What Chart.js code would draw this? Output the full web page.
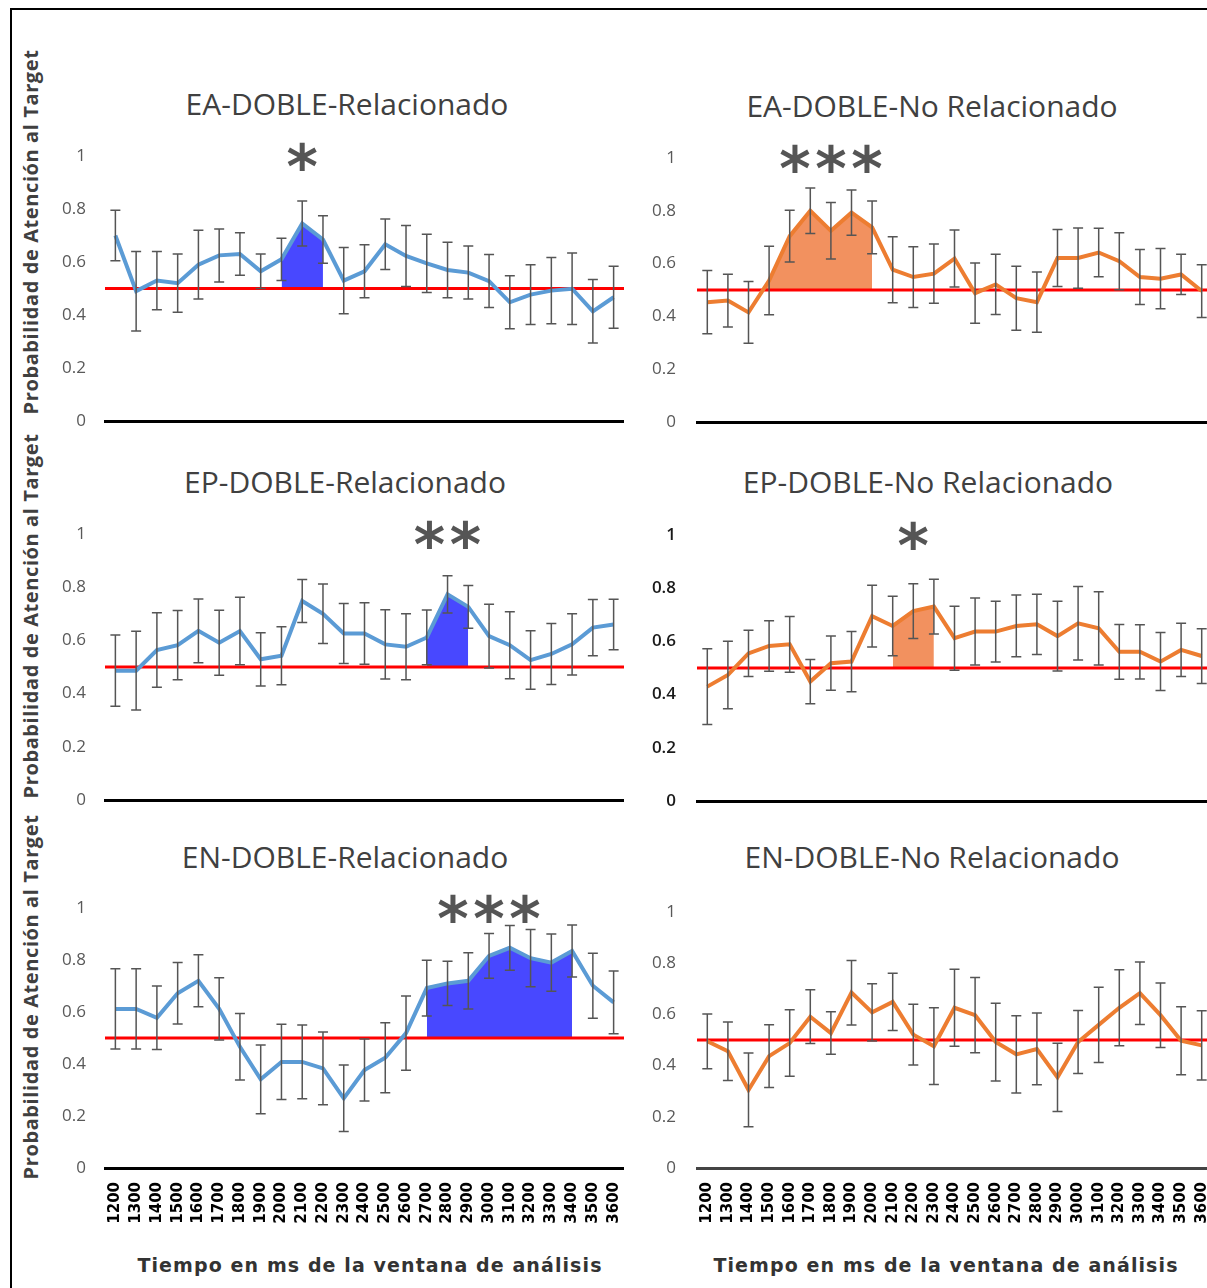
<!DOCTYPE html>
<html>
<head>
<meta charset="utf-8">
<script src="https://cdn.jsdelivr.net/npm/chart.js@4.4.1/dist/chart.umd.min.js"></script>
<style>
  html, body { margin: 0; padding: 0; width: 1207px; height: 1288px; overflow: hidden; background: #fff; }
  #frame { position: absolute; left: 10px; top: 8px; width: 1300px; height: 1400px; border: 2px solid #000; box-sizing: border-box; }
  canvas { position: absolute; }
  .title { position: absolute; font-family: 'Open Sans', sans-serif; font-size: 30px; line-height: 32px; color: #404040; transform: translateX(-50%); white-space: nowrap; }
  .ytitle { position: absolute; font-family: 'Open Sans', sans-serif; font-weight: 700; font-size: 20px; letter-spacing: 0.6px; color: #404040; white-space: nowrap; transform: translate(-50%, -50%) rotate(-90deg); }
  .xtitle { position: absolute; font-family: 'DejaVu Sans', sans-serif; font-weight: 700; font-size: 19px; letter-spacing: 1.1px; color: #333; white-space: nowrap; transform: translateX(-50%); }
</style>
</head>
<body>
<div id="frame"></div>

<div class="ytitle" style="left:30px; top:232px;">Probabilidad de Atención al Target</div>
<div class="ytitle" style="left:30px; top:616px;">Probabilidad de Atención al Target</div>
<div class="ytitle" style="left:30px; top:997px;">Probabilidad de Atención al Target</div>

<div class="title" style="left:347px; top:88px;">EA-DOBLE-Relacionado</div>
<div class="title" style="left:932px; top:90px;">EA-DOBLE-No Relacionado</div>
<div class="title" style="left:345px; top:466px;">EP-DOBLE-Relacionado</div>
<div class="title" style="left:928px; top:466px;">EP-DOBLE-No Relacionado</div>
<div class="title" style="left:345px; top:841px;">EN-DOBLE-Relacionado</div>
<div class="title" style="left:932px; top:841px;">EN-DOBLE-No Relacionado</div>

<div class="xtitle" style="left:370px; top:1254px;">Tiempo en ms de la ventana de análisis</div>
<div class="xtitle" style="left:946px; top:1254px;">Tiempo en ms de la ventana de análisis</div>

<canvas id="c1"></canvas>
<canvas id="c2"></canvas>
<canvas id="c3"></canvas>
<canvas id="c4"></canvas>
<canvas id="c5"></canvas>
<canvas id="c6"></canvas>

<script>
// time windows (ms)
const times = ['1200','1300','1400','1500','1600','1700','1800','1900','2000','2100','2200','2300','2400',
               '2500','2600','2700','2800','2900','3000','3100','3200','3300','3400','3500','3600'];
const yTicks = [0, 0.2, 0.4, 0.6, 0.8, 1];
const chance = 0.5;

// EA - related
const eaRelMean = [0.70,0.49,0.53,0.52,0.59,0.625,0.63,0.565,0.61,0.745,0.685,0.53,0.565,0.667,0.623,0.595,0.57,0.56,0.528,0.448,0.477,0.492,0.499,0.414,0.467];
const eaRelErr  = [0.095,0.15,0.11,0.11,0.13,0.10,0.08,0.065,0.08,0.085,0.09,0.125,0.10,0.095,0.115,0.11,0.105,0.10,0.10,0.10,0.113,0.125,0.135,0.12,0.117];
// EA - unrelated
const eaNoMean = [0.454,0.46,0.415,0.536,0.704,0.80,0.724,0.793,0.737,0.577,0.549,0.562,0.619,0.488,0.521,0.469,0.454,0.621,0.621,0.642,0.609,0.549,0.543,0.559,0.496];
const eaNoErr  = [0.12,0.10,0.117,0.13,0.098,0.086,0.107,0.086,0.10,0.125,0.115,0.112,0.108,0.114,0.114,0.121,0.114,0.108,0.114,0.092,0.108,0.104,0.114,0.076,0.10];
// EP - related
const epRelMean = [0.486,0.486,0.564,0.582,0.636,0.591,0.635,0.529,0.542,0.748,0.70,0.626,0.626,0.585,0.576,0.611,0.773,0.726,0.616,0.582,0.526,0.549,0.585,0.648,0.66];
const epRelErr  = [0.134,0.148,0.14,0.13,0.12,0.122,0.127,0.10,0.109,0.081,0.112,0.113,0.116,0.13,0.124,0.103,0.07,0.08,0.12,0.126,0.11,0.115,0.115,0.106,0.095];
// EP - unrelated
const epNoMean = [0.43,0.474,0.555,0.583,0.589,0.449,0.518,0.524,0.695,0.658,0.714,0.731,0.612,0.637,0.637,0.658,0.664,0.62,0.668,0.649,0.561,0.561,0.524,0.568,0.545];
const epNoErr  = [0.142,0.127,0.087,0.095,0.105,0.083,0.102,0.113,0.116,0.112,0.103,0.103,0.12,0.126,0.114,0.116,0.113,0.131,0.138,0.138,0.103,0.102,0.109,0.10,0.103];
// EN - related
const enRelMean = [0.612,0.612,0.578,0.672,0.72,0.612,0.466,0.341,0.408,0.408,0.383,0.268,0.377,0.424,0.519,0.692,0.71,0.72,0.816,0.847,0.807,0.79,0.835,0.701,0.637];
const enRelErr  = [0.154,0.154,0.122,0.118,0.10,0.12,0.128,0.132,0.145,0.142,0.14,0.128,0.119,0.135,0.143,0.107,0.085,0.108,0.086,0.086,0.11,0.11,0.10,0.125,0.121];
// EN - unrelated
const enNoMean = [0.495,0.456,0.305,0.437,0.488,0.591,0.527,0.685,0.608,0.649,0.521,0.476,0.626,0.597,0.492,0.444,0.465,0.354,0.492,0.559,0.626,0.683,0.597,0.497,0.479];
const enNoErr  = [0.107,0.114,0.144,0.123,0.13,0.105,0.083,0.126,0.112,0.112,0.119,0.15,0.15,0.147,0.152,0.151,0.14,0.133,0.123,0.147,0.148,0.122,0.126,0.133,0.135];

// significant windows, stars and where the stars sit
const sigRanges = [['2000','2200'], ['1400','2000'], ['2700','2900'], ['2100','2300'], ['2700','3400'], null];
const sigStars  = ['*', '***', '**', '*', '***', ''];
const starAt    = ['2100', '1800', '2800', '2200', '3000', null];

const BLUE = '#5b9bd5', BLUE_FILL = '#4848ff';
const ORANGE = '#ed7d31', ORANGE_FILL = '#f2915f';

// plot area boxes (pixels on the page)
const boxes = [
  { id: 'c1', left: 105, right: 624, top: 156, bottom: 421 },
  { id: 'c2', left: 697, right: 1212, top: 158, bottom: 422 },
  { id: 'c3', left: 105, right: 624, top: 534, bottom: 800 },
  { id: 'c4', left: 697, right: 1212, top: 535, bottom: 801 },
  { id: 'c5', left: 105, right: 624, top: 908, bottom: 1168 },
  { id: 'c6', left: 697, right: 1212, top: 912, bottom: 1168 }
];

const extras = {
  id: 'extras',
  beforeDatasetDraw(chart, args, opts) {
    if (args.index !== 0) return;
    const { ctx, chartArea: a, scales: { y } } = chart;
    const yy = y.getPixelForValue(opts.ref);
    ctx.save();
    ctx.strokeStyle = '#ff0000';
    ctx.lineWidth = 3;
    ctx.beginPath();
    ctx.moveTo(a.left, yy);
    ctx.lineTo(a.right, yy);
    ctx.stroke();
    ctx.restore();
  },
  afterDatasetsDraw(chart, args, opts) {
    const { ctx, scales: { x, y } } = chart;
    ctx.save();
    ctx.strokeStyle = '#555';
    ctx.lineWidth = 1.5;
    opts.mean.forEach((m, i) => {
      const px = x.getPixelForValue(i);
      const top = y.getPixelForValue(m + opts.err[i]);
      const bot = y.getPixelForValue(m - opts.err[i]);
      ctx.beginPath();
      ctx.moveTo(px, top); ctx.lineTo(px, bot);
      ctx.moveTo(px - 5, top); ctx.lineTo(px + 5, top);
      ctx.moveTo(px - 5, bot); ctx.lineTo(px + 5, bot);
      ctx.stroke();
    });
    ctx.restore();
  },
  afterDraw(chart, args, opts) {
    if (!opts.stars) return;
    const { ctx, scales: { x, y } } = chart;
    const cx = x.getPixelForValue(opts.labels.indexOf(opts.starAt));
    const cy = y.getPixelForValue(1);
    ctx.save();
    ctx.fillStyle = '#555';
    ctx.font = 'bold 60px "DejaVu Sans"';
    ctx.textAlign = 'center';
    ctx.textBaseline = 'alphabetic';
    const m = ctx.measureText('*');
    const off = (m.actualBoundingBoxAscent - m.actualBoundingBoxDescent) / 2;
    const n = opts.stars.length, gap = 36;
    for (let k = 0; k < n; k++) {
      ctx.fillText('*', cx + (k - (n - 1) / 2) * gap, cy + off);
    }
    ctx.restore();
  }
};

function makePanel(idx, mean, err, color, fillColor, showX, tickStyle) {
  const b = boxes[idx];
  const yW = idx % 2 === 0 ? 64 : 70;
  const yPad = idx % 2 === 0 ? 19 : 21;
  const xH = 70;
  const padTop = 45;
  const cv = document.getElementById(b.id);
  const cl = b.left - yW, ct = b.top - padTop;
  cv.width = b.right - cl;
  cv.height = b.bottom - ct + xH;
  cv.style.left = cl + 'px';
  cv.style.top = ct + 'px';

  const range = sigRanges[idx];
  const datasets = [{
    data: mean,
    borderColor: color,
    borderWidth: 4,
    pointRadius: 0,
    fill: false,
    order: 1
  }];
  if (range) {
    const i0 = times.indexOf(range[0]), i1 = times.indexOf(range[1]);
    datasets.push({
      data: mean.map((v, i) => (i >= i0 && i <= i1 ? v : null)),
      borderColor: 'rgba(0,0,0,0)',
      borderWidth: 0,
      pointRadius: 0,
      spanGaps: false,
      fill: { target: { value: chance }, above: fillColor, below: 'rgba(0,0,0,0)' },
      order: 2
    });
  }

  new Chart(cv, {
    type: 'line',
    data: { labels: times, datasets: datasets },
    options: {
      responsive: false,
      animation: false,
      layout: { padding: { top: padTop, left: 0, right: 0, bottom: 0 } },
      plugins: {
        legend: { display: false },
        tooltip: { enabled: false },
        extras: { ref: chance, mean: mean, err: err, stars: sigStars[idx], starAt: starAt[idx], labels: times }
      },
      scales: {
        x: {
          offset: true,
          grid: { display: false, drawTicks: false },
          border: { display: true, color: idx === 5 ? '#444' : '#000', width: 3 },
          ticks: {
            autoSkip: false,
            minRotation: 90,
            maxRotation: 90,
            padding: 14,
            color: showX ? '#000' : 'rgba(0,0,0,0)',
            font: { family: 'DejaVu Sans', size: 15, weight: 'bold' }
          },
          afterFit(s) { s.height = xH; s.paddingLeft = 0; s.paddingRight = 0; }
        },
        y: {
          min: 0,
          max: 1,
          afterBuildTicks(s) { s.ticks = yTicks.map(v => ({ value: v })); },
          grid: { display: false, drawTicks: false },
          border: { display: false },
          ticks: {
            padding: yPad,
            color: tickStyle.color,
            font: { family: 'Open Sans', size: 17, weight: tickStyle.weight },
            callback: v => String(v)
          },
          afterFit(s) { s.width = yW; }
        }
      }
    },
    plugins: [extras]
  });
}

const normalTicks = { color: '#595959', weight: 'normal' };
const darkTicks = { color: '#1a1a1a', weight: '600' };

makePanel(0, eaRelMean, eaRelErr, BLUE, BLUE_FILL, false, normalTicks);
makePanel(1, eaNoMean, eaNoErr, ORANGE, ORANGE_FILL, false, normalTicks);
makePanel(2, epRelMean, epRelErr, BLUE, BLUE_FILL, false, normalTicks);
makePanel(3, epNoMean, epNoErr, ORANGE, ORANGE_FILL, false, darkTicks);
makePanel(4, enRelMean, enRelErr, BLUE, BLUE_FILL, true, normalTicks);
makePanel(5, enNoMean, enNoErr, ORANGE, ORANGE_FILL, true, normalTicks);
</script>
</body>
</html>
